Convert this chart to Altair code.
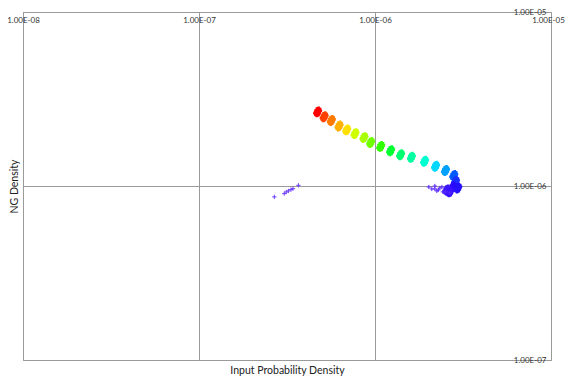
import altair as alt
import pandas as pd

# Cluster centres of the main series (x = input probability density, y = NG density)
cluster_x = [4.72e-7, 5.14e-7, 5.65e-7, 6.25e-7, 6.91e-7, 7.70e-7, 8.66e-7, 9.45e-7,
             1.077e-6, 1.227e-6, 1.398e-6, 1.61e-6, 1.913e-6, 2.208e-6, 2.515e-6,
             2.803e-6, 2.866e-6, 2.77e-6, 2.56e-6, 2.953e-6, 2.66e-6]
cluster_y = [2.667e-6, 2.50e-6, 2.38e-6, 2.213e-6, 2.10e-6, 2.0e-6, 1.898e-6, 1.778e-6,
             1.688e-6, 1.595e-6, 1.513e-6, 1.462e-6, 1.387e-6, 1.299e-6, 1.228e-6,
             1.150e-6, 1.063e-6, 0.987e-6, 0.949e-6, 0.974e-6, 0.925e-6]
cluster_color = ["#ff0000", "#ff4000", "#ff7a00", "#ffb000", "#ffe000", "#d0ff00",
                 "#a8ff00", "#70ff00", "#30ff00", "#00ff30", "#00ff70", "#00ffa0",
                 "#00ffd0", "#00d8ff", "#00a0ff", "#0058ff", "#1a30ff", "#2a08ff",
                 "#3c14ff", "#2410ff", "#3810ff"]

# Sparse single measurements (violet)
single_x = [2.68e-7, 3.05e-7, 3.13e-7, 3.22e-7, 3.33e-7, 3.42e-7, 3.67e-7,
            2.022e-6, 2.103e-6, 2.188e-6, 2.246e-6, 2.336e-6, 2.429e-6, 2.525e-6,
            2.66e-6, 2.188e-6, 2.29e-6, 2.40e-6]
single_y = [8.66e-7, 9.04e-7, 9.24e-7, 9.37e-7, 9.53e-7, 9.65e-7, 1.009e-6,
            0.987e-6, 0.962e-6, 1.0e-6, 0.937e-6, 0.974e-6, 0.925e-6, 0.925e-6,
            0.912e-6, 0.962e-6, 0.949e-6, 0.987e-6]
single_color = ["#6a3cff"] * 7 + ["#5a28ff"] * 11

x_ticks = [1e-8, 1e-7, 1e-6, 1e-5]
y_ticks = [1e-7, 1e-6, 1e-5]

W, H = 528, 348
FONT = "Lato"
GRID = "#9a9a9a"

clusters = pd.DataFrame({"x": cluster_x, "y": cluster_y, "c": cluster_color})
singles = pd.DataFrame({"x": single_x, "y": single_y, "c": single_color})

label_expr = "'1.00E-0' + round(-log(datum.value) / LN10)"

x_enc = alt.X("x:Q", scale=alt.Scale(type="log", domain=[1e-8, 1e-5], nice=False),
              axis=alt.Axis(orient="top", values=x_ticks, labelExpr=label_expr,
                            grid=True, gridColor=GRID, gridWidth=1, domain=False,
                            ticks=False, tickSize=0, labelPadding=-8,
                            labelOffset=alt.condition("datum.value > 5e-6",
                                                      alt.value(-3), alt.value(0)),
                            labelBaseline="middle", labelFlush=False,
                            labelFont=FONT, labelFontSize=8, labelColor="#333333",
                            title="Input Probability Density", titleFont=FONT,
                            titleFontSize=10.5, titleFontWeight="normal", titleColor="#222222",
                            titleX=W / 2, titleY=H + 10, titleBaseline="middle",
                            titleAlign="center"))
y_enc = alt.Y("y:Q", scale=alt.Scale(type="log", domain=[1e-7, 1e-5], nice=False),
              axis=alt.Axis(orient="right", values=y_ticks, labelExpr=label_expr,
                            grid=True, gridColor=GRID, gridWidth=1, domain=False,
                            ticks=False, tickSize=0, labelPadding=-5,
                            labelAlign="right", labelBaseline="middle", labelFlush=False,
                            labelFont=FONT, labelFontSize=8, labelColor="#333333",
                            title="NG Density", titleFont=FONT, titleFontSize=10.5,
                            titleFontWeight="normal", titleColor="#222222",
                            titleAngle=270, titleX=-(W + 8.5), titleY=174,
                            titleAlign="center", titleBaseline="middle"))

blob = ("M0.05,-1 L0.4,-1 L0.45,-0.82 L0.68,-0.75 L0.72,-0.45 L0.85,-0.35 L0.8,0 "
        "L0.66,0.12 L0.62,0.45 L0.45,0.55 L0.38,0.82 L0.15,0.88 L0.05,1 L-0.35,1 "
        "L-0.42,0.85 L-0.62,0.78 L-0.7,0.5 L-0.85,0.38 L-0.8,0.02 L-0.66,-0.1 "
        "L-0.62,-0.45 L-0.42,-0.55 L-0.36,-0.82 L-0.12,-0.88 Z")
plus = "M-1,0 L1,0 M0,-1 L0,1"

blobs = alt.Chart(clusters).mark_point(shape=blob, filled=True, size=118, opacity=1,
                                       strokeWidth=0).encode(
    x=x_enc, y=y_enc, color=alt.Color("c:N", scale=None))

crosses = alt.Chart(singles).mark_point(shape=plus, filled=False, size=18, opacity=1,
                                        strokeWidth=1).encode(
    x=x_enc, y=y_enc, color=alt.Color("c:N", scale=None))

chart = alt.layer(blobs, crosses).properties(
    width=W, height=H,
    autosize=alt.AutoSizeParams(type="none"),
    padding={"left": 15, "top": 4, "right": 15, "bottom": 17},
    background="white",
).configure_view(stroke=GRID, strokeWidth=1)

chart.save("out.html", embed_options={"renderer": "svg", "actions": False})
